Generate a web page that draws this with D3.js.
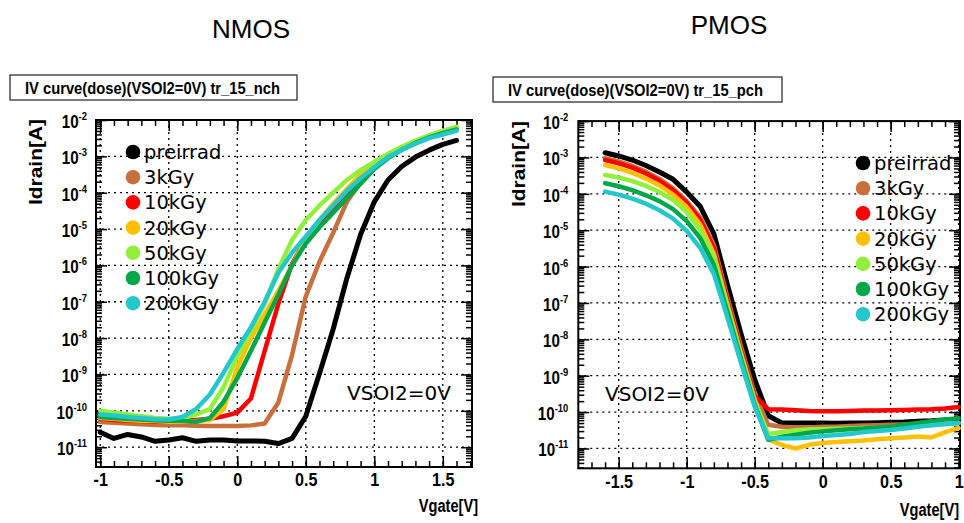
<!DOCTYPE html>
<html>
<head>
<meta charset="utf-8">
<script src="https://cdn.jsdelivr.net/npm/d3@7/dist/d3.min.js"></script>
<style>
  body { margin: 0; background: #fff; }
  svg { display: block; }
</style>
</head>
<body>
<svg id="chart" width="964" height="523"></svg>
<script>
// dose labels + colours (legend order = draw order)
const doses = ["preirrad", "3kGy", "10kGy", "20kGy", "50kGy", "100kGy", "200kGy"];
const doseColors = ["#000000", "#c8703c", "#ff0000", "#ffc000", "#92f03a", "#00a84a", "#22c8cc"];

// gate voltages [V]
const nmosVgate = [-1, -0.9, -0.8, -0.7, -0.6, -0.5, -0.4, -0.3, -0.2, -0.1, 0, 0.1, 0.2, 0.3, 0.4, 0.5, 0.6, 0.7, 0.8, 0.9, 1.0, 1.1, 1.2, 1.3, 1.4, 1.5, 1.6];
const pmosVgate = [-1.6, -1.5, -1.4, -1.3, -1.2, -1.1, -1.0, -0.9, -0.8, -0.7, -0.6, -0.5, -0.4, -0.3, -0.2, -0.1, 0, 0.1, 0.2, 0.3, 0.4, 0.5, 0.6, 0.7, 0.8, 0.9, 1.0];

// NMOS drain current [A]
const nmosPreirrad = [2.57e-11, 1.74e-11, 2.24e-11, 1.91e-11, 1.45e-11, 1.58e-11, 1.82e-11, 1.45e-11, 1.58e-11, 1.58e-11, 1.48e-11, 1.48e-11, 1.45e-11, 1.26e-11, 1.74e-11, 7.08e-11, 1.07e-9, 1.78e-8, 4.47e-7, 7.08e-6, 5.62e-5, 2.24e-4, 5.25e-4, 9.55e-4, 1.48e-3, 2.14e-3, 2.75e-3];
const nmos3k = [4.90e-11, 4.68e-11, 4.47e-11, 4.27e-11, 4.07e-11, 3.98e-11, 3.98e-11, 3.89e-11, 3.80e-11, 3.80e-11, 3.80e-11, 3.98e-11, 4.47e-11, 1.70e-10, 3.47e-9, 1.41e-7, 1.26e-6, 7.94e-6, 5.62e-5, 1.91e-4, 4.79e-4, 1.0e-3, 1.66e-3, 2.51e-3, 3.47e-3, 4.57e-3, 5.62e-3];
const nmos10k = [6.03e-11, 5.62e-11, 5.37e-11, 5.25e-11, 5.01e-11, 5.01e-11, 5.25e-11, 5.62e-11, 6.03e-11, 7.08e-11, 8.91e-11, 2.19e-10, 4.47e-9, 8.91e-8, 1.12e-6, 5.01e-6, 1.26e-5, 3.16e-5, 7.94e-5, 2.0e-4, 5.01e-4, 1.0e-3, 1.66e-3, 2.51e-3, 3.55e-3, 4.68e-3, 5.89e-3];
const nmos20k = [6.31e-11, 6.03e-11, 5.62e-11, 5.37e-11, 5.25e-11, 5.01e-11, 5.01e-11, 5.25e-11, 5.62e-11, 1.12e-10, 1.58e-9, 1.0e-8, 4.47e-8, 2.0e-7, 1.0e-6, 5.01e-6, 1.78e-5, 5.01e-5, 1.26e-4, 3.16e-4, 6.31e-4, 1.12e-3, 1.78e-3, 2.63e-3, 3.72e-3, 4.90e-3, 6.31e-3];
const nmos50k = [1.0e-10, 8.91e-11, 7.94e-11, 7.08e-11, 6.31e-11, 6.03e-11, 6.31e-11, 7.94e-11, 1.12e-10, 4.47e-10, 3.16e-9, 1.58e-8, 8.91e-8, 7.94e-7, 5.01e-6, 1.78e-5, 4.47e-5, 1.0e-4, 2.24e-4, 4.17e-4, 7.08e-4, 1.17e-3, 1.82e-3, 2.69e-3, 3.80e-3, 5.01e-3, 6.46e-3];
const nmos100k = [6.76e-11, 6.31e-11, 6.03e-11, 5.75e-11, 5.50e-11, 5.37e-11, 5.25e-11, 5.01e-11, 6.31e-11, 1.78e-10, 7.94e-10, 4.47e-9, 2.69e-8, 1.58e-7, 1.0e-6, 3.98e-6, 1.12e-5, 2.82e-5, 7.08e-5, 1.78e-4, 4.47e-4, 8.91e-4, 1.51e-3, 2.34e-3, 3.31e-3, 4.37e-3, 5.50e-3];
const nmos200k = [7.94e-11, 7.41e-11, 6.76e-11, 6.31e-11, 5.89e-11, 5.75e-11, 6.76e-11, 1.12e-10, 2.82e-10, 1.12e-9, 5.01e-9, 2.0e-8, 1.0e-7, 6.31e-7, 2.24e-6, 6.31e-6, 1.78e-5, 4.47e-5, 1.12e-4, 2.51e-4, 5.01e-4, 9.55e-4, 1.51e-3, 2.24e-3, 3.16e-3, 3.98e-3, 5.01e-3];

// PMOS drain current [A]
const pmosPreirrad = [1.35e-3, 1.10e-3, 8.51e-4, 6.03e-4, 3.98e-4, 2.51e-4, 1.12e-4, 4.47e-5, 7.94e-6, 3.16e-7, 1.41e-8, 7.94e-10, 7.94e-11, 5.01e-11, 5.01e-11, 5.01e-11, 5.01e-11, 4.90e-11, 5.01e-11, 5.01e-11, 5.13e-11, 5.25e-11, 5.37e-11, 5.62e-11, 5.75e-11, 6.03e-11, 6.17e-11];
const pmos3k = [9.55e-4, 7.76e-4, 5.89e-4, 4.07e-4, 2.57e-4, 1.41e-4, 6.31e-5, 2.24e-5, 3.98e-6, 1.41e-7, 6.31e-9, 3.16e-10, 4.47e-11, 3.98e-11, 3.80e-11, 3.80e-11, 3.98e-11, 3.98e-11, 4.17e-11, 4.27e-11, 4.37e-11, 4.47e-11, 4.57e-11, 4.68e-11, 4.79e-11, 4.90e-11, 5.01e-11];
const pmos10k = [8.51e-4, 6.92e-4, 5.25e-4, 3.63e-4, 2.29e-4, 1.26e-4, 5.62e-5, 1.91e-5, 3.16e-6, 1.12e-7, 5.01e-9, 2.82e-10, 1.20e-10, 1.17e-10, 1.12e-10, 1.07e-10, 1.05e-10, 1.05e-10, 1.07e-10, 1.10e-10, 1.10e-10, 1.12e-10, 1.15e-10, 1.17e-10, 1.20e-10, 1.26e-10, 1.38e-10];
const pmos20k = [6.17e-4, 5.01e-4, 3.80e-4, 2.63e-4, 1.70e-4, 9.55e-5, 4.37e-5, 1.41e-5, 2.24e-6, 8.91e-8, 3.98e-9, 2.24e-10, 1.74e-11, 1.26e-11, 1.0e-11, 1.26e-11, 1.41e-11, 1.51e-11, 1.58e-11, 1.66e-11, 1.78e-11, 1.91e-11, 2.0e-11, 2.14e-11, 2.0e-11, 2.82e-11, 3.63e-11];
const pmos50k = [3.31e-4, 2.82e-4, 2.24e-4, 1.66e-4, 1.12e-4, 6.76e-5, 3.16e-5, 1.02e-5, 1.78e-6, 7.94e-8, 3.55e-9, 2.0e-10, 2.51e-11, 2.82e-11, 3.16e-11, 3.31e-11, 3.39e-11, 3.47e-11, 3.55e-11, 3.63e-11, 3.72e-11, 3.80e-11, 3.98e-11, 4.17e-11, 4.37e-11, 4.68e-11, 5.01e-11];
const pmos100k = [1.95e-4, 1.62e-4, 1.26e-4, 9.12e-5, 6.31e-5, 3.80e-5, 1.78e-5, 6.03e-6, 1.12e-6, 5.62e-8, 2.82e-9, 1.58e-10, 1.74e-11, 2.09e-11, 2.40e-11, 2.69e-11, 2.95e-11, 3.16e-11, 3.39e-11, 3.55e-11, 3.80e-11, 3.98e-11, 4.47e-11, 5.01e-11, 5.62e-11, 6.31e-11, 6.76e-11];
const pmos200k = [1.15e-4, 9.55e-5, 7.41e-5, 5.37e-5, 3.55e-5, 2.09e-5, 9.55e-6, 3.24e-6, 6.31e-7, 3.98e-8, 2.24e-9, 1.41e-10, 1.91e-11, 1.91e-11, 1.91e-11, 2.0e-11, 2.19e-11, 2.34e-11, 2.51e-11, 2.82e-11, 3.02e-11, 3.24e-11, 3.55e-11, 3.98e-11, 4.37e-11, 4.68e-11, 5.01e-11];

// axis ticks
const nmosXTicks = [-1, -0.5, 0, 0.5, 1, 1.5];
const pmosXTicks = [-1.5, -1, -0.5, 0, 0.5, 1];
const yDecades = [1e-11, 1e-10, 1e-9, 1e-8, 1e-7, 1e-6, 1e-5, 1e-4, 1e-3, 1e-2];
const yDecadeExp = ["-11", "-10", "-9", "-8", "-7", "-6", "-5", "-4", "-3", "-2"];

const svg = d3.select("#chart");
const rootFont = "'Liberation Sans', Arial, sans-serif";
const legendFont = "'DejaVu Sans', Verdana, sans-serif";

function drawPanel(o) {
  const x = d3.scaleLinear().domain(o.xDomain).range([o.left, o.right]);
  const y = d3.scaleLog().domain([2.85e-12, 1e-2]).range([o.bottom, o.top]);
  const g = svg.append("g");

  // dotted grid
  g.append("g").selectAll("line.vg").data(o.xTicks).enter().append("line")
    .attr("x1", d => x(d)).attr("x2", d => x(d))
    .attr("y1", o.top).attr("y2", o.bottom)
    .attr("stroke", "#000").attr("stroke-width", 1.3).attr("stroke-dasharray", "2,4");
  g.append("g").selectAll("line.hg").data(yDecades).enter().append("line")
    .attr("x1", o.left).attr("x2", o.right)
    .attr("y1", d => y(d)).attr("y2", d => y(d))
    .attr("stroke", "#000").attr("stroke-width", 1.3).attr("stroke-dasharray", "2,4");

  // ROOT style ticks, pointing inward on all four sides
  const minorX = x.ticks(30);
  const minorY = y.ticks(100);
  const ax = (gen, tx, ty) => {
    const a = g.append("g").attr("transform", "translate(" + tx + "," + ty + ")").call(gen);
    a.select(".domain").remove();
    a.selectAll("line").attr("stroke", "#000").attr("stroke-width", 1.5);
    return a;
  };
  const bottomAxis = ax(d3.axisBottom(x).tickValues(o.xTicks).tickSize(-11).tickPadding(6).tickFormat(d => String(d)), 0, o.bottom);
  ax(d3.axisBottom(x).tickValues(minorX).tickSize(-6).tickFormat(""), 0, o.bottom);
  ax(d3.axisTop(x).tickValues(o.xTicks).tickSize(-11).tickFormat(""), 0, o.top);
  ax(d3.axisTop(x).tickValues(minorX).tickSize(-6).tickFormat(""), 0, o.top);
  ax(d3.axisLeft(y).tickValues(yDecades).tickSize(-11).tickFormat(""), o.left, 0);
  ax(d3.axisLeft(y).tickValues(minorY).tickSize(-6).tickFormat(""), o.left, 0);
  ax(d3.axisRight(y).tickValues(yDecades).tickSize(-11).tickFormat(""), o.right, 0);
  ax(d3.axisRight(y).tickValues(minorY).tickSize(-6).tickFormat(""), o.right, 0);

  bottomAxis.attr("font-family", rootFont).attr("font-size", 19).attr("font-weight", "bold");
  bottomAxis.selectAll("text").attr("fill", "#000").attr("transform", "scale(0.85,1)");

  // y labels 10^n
  g.append("g").selectAll("text").data(yDecades).enter().append("text")
    .attr("transform", d => "translate(" + (o.left - o.labelGap) + "," + (y(d) + 8) + ") scale(0.82,1)")
    .attr("text-anchor", "end")
    .attr("font-family", rootFont).attr("font-weight", "bold")
    .each(function (d, i) {
      const t = d3.select(this);
      t.append("tspan").attr("font-size", 18.5).text("10");
      t.append("tspan").attr("font-size", 11.5).attr("dy", -8).text(yDecadeExp[i]);
    });

  // frame
  g.append("rect").attr("x", o.left).attr("y", o.top)
    .attr("width", o.right - o.left).attr("height", o.bottom - o.top)
    .attr("fill", "none").attr("stroke", "#000").attr("stroke-width", 2);

  // curves
  const line = d3.line().x(d => x(d[0])).y(d => y(d[1]));
  o.series.forEach((s, i) => {
    g.append("path").datum(d3.zip(o.vgate, s))
      .attr("d", line).attr("fill", "none")
      .attr("stroke", doseColors[i]).attr("stroke-width", i === 0 ? 5 : 4.5)
      .attr("stroke-linejoin", "round").attr("stroke-linecap", "round");
  });

  // legend
  const lg = g.append("g").attr("transform", "translate(" + o.legendX + "," + o.legendY + ")");
  doses.forEach((name, i) => {
    lg.append("circle").attr("cx", 0).attr("cy", i * 25.2).attr("r", 7.3).attr("fill", doseColors[i]);
    lg.append("text").attr("x", 11).attr("y", i * 25.2 + 7)
      .attr("font-family", legendFont).attr("font-size", 19.5).attr("fill", "#000").text(name);
  });

  // annotation
  g.append("text").attr("x", o.noteX).attr("y", o.noteY)
    .attr("font-family", legendFont).attr("font-size", 20).attr("fill", "#000").text("VSOI2=0V");

  // title box
  g.append("rect").attr("x", o.boxX).attr("y", o.boxY).attr("width", o.boxW).attr("height", 25)
    .attr("fill", "#fff").attr("stroke", "#333").attr("stroke-width", 1.3);
  g.append("text").attr("x", o.boxX + 15).attr("y", o.boxY + 19)
    .attr("font-family", rootFont).attr("font-size", 16).attr("font-weight", "bold").attr("fill", "#000")
    .attr("textLength", 255).attr("lengthAdjust", "spacingAndGlyphs").text(o.title);

  // axis titles (narrowed with a scale so the box stays honest)
  g.append("text").attr("transform", "translate(" + o.yTitleX + "," + o.yTitleY + ") rotate(-90) scale(1.1,1)")
    .attr("text-anchor", "middle").attr("font-family", rootFont).attr("font-weight", "bold")
    .attr("font-size", 19).text("Idrain[A]");
  g.append("text").attr("transform", "translate(" + o.xTitleX + "," + o.xTitleY + ") scale(0.77,1)")
    .attr("text-anchor", "end").attr("font-family", rootFont).attr("font-weight", "bold")
    .attr("font-size", 19).text("Vgate[V]");

  // device heading
  g.append("text").attr("x", o.headX).attr("y", o.headY).attr("text-anchor", "middle")
    .attr("font-family", rootFont).attr("font-size", 26).attr("fill", "#000").text(o.head);
}

drawPanel({
  head: "NMOS", headX: 251, headY: 38,
  title: "IV curve(dose)(VSOI2=0V) tr_15_nch", boxX: 10, boxY: 75, boxW: 287,
  left: 96, right: 472, top: 120, bottom: 467, xDomain: [-1.031, 1.713],
  xTicks: nmosXTicks, labelGap: 9,
  vgate: nmosVgate,
  series: [nmosPreirrad, nmos3k, nmos10k, nmos20k, nmos50k, nmos100k, nmos200k],
  legendX: 133, legendY: 152,
  noteX: 347, noteY: 400,
  yTitleX: 42, yTitleY: 162, xTitleX: 478, xTitleY: 512
});

drawPanel({
  head: "PMOS", headX: 729, headY: 34,
  title: "IV curve(dose)(VSOI2=0V) tr_15_pch", boxX: 493, boxY: 77, boxW: 289,
  left: 578.3, right: 960, top: 121.1, bottom: 468.3, xDomain: [-1.797, 1.01],
  xTicks: pmosXTicks, labelGap: 10,
  vgate: pmosVgate,
  series: [pmosPreirrad, pmos3k, pmos10k, pmos20k, pmos50k, pmos100k, pmos200k],
  legendX: 863, legendY: 163,
  noteX: 605, noteY: 401,
  yTitleX: 525, yTitleY: 164, xTitleX: 959, xTitleY: 516
});
</script>
</body>
</html>
